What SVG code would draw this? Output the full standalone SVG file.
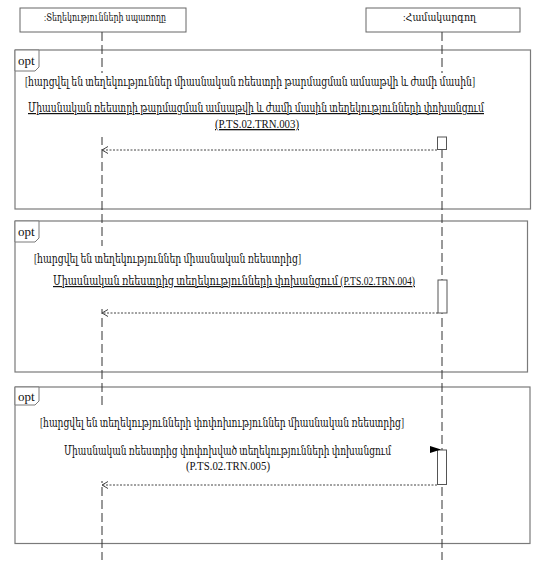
<svg xmlns="http://www.w3.org/2000/svg" width="544" height="568" viewBox="0 0 544 568">
<defs>
<style>
.t{font-family:"Liberation Serif","DejaVu Serif",serif;font-size:12px;fill:#111}
.h{font-family:"Liberation Serif","DejaVu Serif",serif;font-size:11px;fill:#111}
.l{font-size:13px}
.u{text-decoration:underline}
.frame{fill:none;stroke:#7a7a7a;stroke-width:1.2}
.tag{fill:#fff;stroke:#7a7a7a;stroke-width:1}
.life{stroke:#333;stroke-width:1;stroke-dasharray:9 4;fill:none}
.act{fill:#fff;stroke:#555;stroke-width:1}
.ret{stroke:#444;stroke-width:1;stroke-dasharray:2 1.5;fill:none}
.head{fill:#fff;stroke:#666;stroke-width:1}
.bg{fill:#fff;stroke:none}
</style>
<marker id="open" markerWidth="10" markerHeight="10" refX="7" refY="4" orient="auto" markerUnits="userSpaceOnUse">
<path d="M1,0.5 L7,4 L1,7.5" fill="none" stroke="#444" stroke-width="1"/>
</marker>
</defs>
<rect width="544" height="568" fill="#fff"/>

<g id="frame1">
<rect class="frame" x="15" y="50" width="515.5" height="159"/>
<path class="tag" d="M15,50 H39 V67 L35,71 H15 Z"/>
<text class="t" x="18" y="65" style="font-size:13px">opt</text>
</g>
<g id="frame2">
<rect class="frame" x="15" y="221" width="512.5" height="151"/>
<path class="tag" d="M15,221 H39 V238 L35,242 H15 Z"/>
<text class="t" x="18" y="236" style="font-size:13px">opt</text>
</g>
<g id="frame3">
<rect class="frame" x="15" y="387" width="515" height="156.5"/>
<path class="tag" d="M15,387 H39 V401 L35,405 H15 Z"/>
<text class="t" x="18" y="401" style="font-size:13px">opt</text>
</g>

<g id="consumer">
<rect class="head" x="20" y="8" width="166" height="24"/>
<text class="h" x="44" y="21" textLength="122" lengthAdjust="spacingAndGlyphs">:Տեղեկությունների սպառողը</text>
</g>
<g id="coordinator">
<rect class="head" x="366" y="8" width="154" height="24"/>
<text class="h" x="403" y="21" textLength="73" lengthAdjust="spacingAndGlyphs">:Համակարգող</text>
</g>

<g id="connectors">
<line class="life" x1="102" y1="32" x2="102" y2="560"/>
<line class="life" x1="442" y1="32" x2="442" y2="560"/>
</g>

<g id="labels">
<rect class="bg" x="22" y="73" width="466" height="64"/>
<rect class="bg" x="30" y="246" width="388" height="63"/>
<rect class="bg" x="38" y="405" width="367" height="76"/>
<text class="t" x="25" y="86" textLength="450" lengthAdjust="spacingAndGlyphs">[հարցվել են տեղեկություններ միասնական ռեեստրի թարմացման ամսաթվի և ժամի մասին]</text>
<text class="t u" x="28" y="112" textLength="456" lengthAdjust="spacingAndGlyphs">Միասնական ռեեստրի թարմացման ամսաթվի և ժամի մասին տեղեկությունների փոխանցում</text>
<text class="t u l" x="215" y="128" textLength="84" lengthAdjust="spacingAndGlyphs">(P.TS.02.TRN.003)</text>
<text class="t" x="34" y="263" textLength="267" lengthAdjust="spacingAndGlyphs">[հարցվել են  տեղեկություններ միասնական ռեեստրից]</text>
<text class="t u" x="53" y="285" textLength="362" lengthAdjust="spacingAndGlyphs">Միասնական ռեեստրից տեղեկությունների փոխանցում (P.TS.02.TRN.004)</text>
<text class="t" x="40" y="427" textLength="364" lengthAdjust="spacingAndGlyphs">[հարցվել են տեղեկությունների փոփոխություններ միասնական ռեեստրից]</text>
<text class="t" x="64" y="455" textLength="327" lengthAdjust="spacingAndGlyphs">Միասնական ռեեստրից փոփոխված տեղեկությունների փոխանցում</text>
<text class="t l" x="186" y="470" textLength="84" lengthAdjust="spacingAndGlyphs">(P.TS.02.TRN.005)</text>
</g>

<g id="messages">
<rect class="act" x="437.5" y="137" width="9" height="12.5"/>
<rect class="act" x="438" y="280" width="9" height="33"/>
<rect class="act" x="437.5" y="450" width="9" height="34.5"/>
<line class="ret" x1="437" y1="150" x2="102" y2="150" marker-end="url(#open)"/>
<line class="ret" x1="438" y1="313" x2="102" y2="313" marker-end="url(#open)"/>
<line class="ret" x1="437" y1="485" x2="102" y2="485" marker-end="url(#open)"/>
<polygon points="430,446 441,449.5 430,453" fill="#000"/>
<line x1="430" y1="449.5" x2="437" y2="449.5" stroke="#000" stroke-width="1"/>
</g>
</svg>
